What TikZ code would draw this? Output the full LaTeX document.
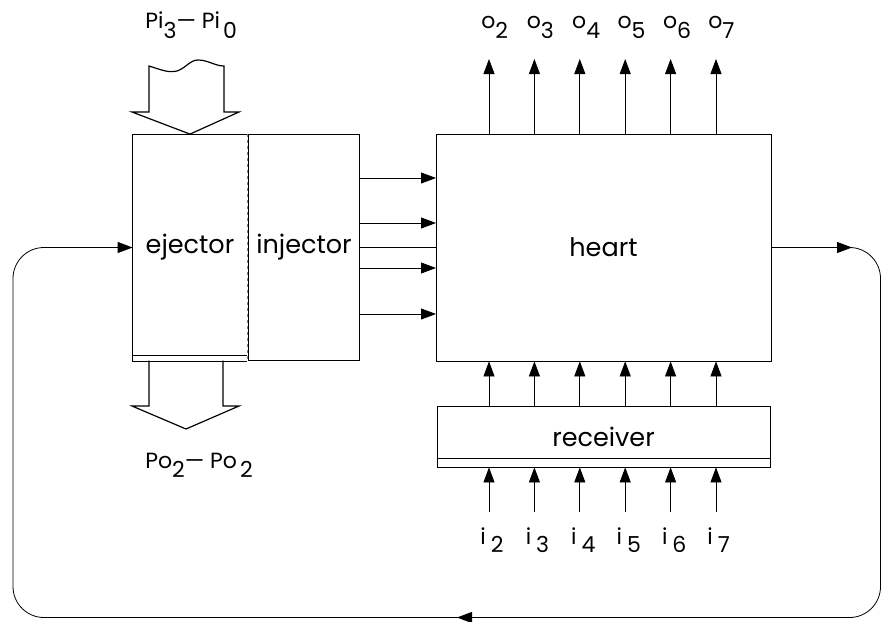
\documentclass[tikz,border=0pt]{standalone}
\usepackage{fontspec}
\setmainfont{Poppins}
\usetikzlibrary{arrows.meta}
\begin{document}
\begin{tikzpicture}[x=1pt,y=-1pt, line width=0.8pt,
  arr/.style={-{Triangle[length=15pt,width=11pt]}},
  blk/.style={draw, inner sep=0pt, font=\fontsize{25.5}{28}\selectfont},
  lbl/.style={inner sep=0pt, anchor=base west, font=\fontsize{22}{24}\selectfont},
  fat/.style={line width=1.2pt, line join=miter}]
\useasboundingbox (0,0) rectangle (882,621);
% blocks
\node[blk, draw=none, minimum width=114pt, minimum height=226pt] (ej) at (190,247.5) {ejector};
\draw (ej.north east) -- (ej.north west) -- (ej.south west) -- (ej.south east);
\draw[dashed, gray] (ej.north east) -- (ej.south east);
\draw ([yshift=6pt]ej.south west) -- ([yshift=6pt]ej.south east);
\node[blk, minimum width=111pt, minimum height=226pt] (inj) at (304,247.5) {injector};
\node[blk, minimum width=335pt, minimum height=227pt] (heart) at (603.5,247.5) {heart};
\node[blk, minimum width=333pt, minimum height=61pt] (rec) at (603.5,436.5) {receiver};
\draw ([yshift=9pt]rec.south west) -- ([yshift=9pt]rec.south east);
% injector -> heart
\foreach \y [count=\k] in {178,223,268,314} {
  \coordinate (a\k) at (436,\y);
  \draw[arr] (inj.east |- a\k) -- (a\k);
}
\draw (inj.east) -- (heart.west);
% outputs, receiver links, inputs
\foreach \k in {0,...,5} {
  \pgfmathsetmacro{\xx}{489+45.4*\k}
  \pgfmathtruncatemacro{\n}{\k+2}
  \coordinate (o\k) at (\xx,59);
  \coordinate (r\k) at (\xx,512);
  \draw[arr] (o\k |- heart.north) -- (o\k);
  \draw[arr] (o\k |- rec.north) -- (o\k |- heart.south);
  \draw[arr] (r\k) -- (r\k |- rec.south);
  \node[lbl] (lo\k) at (\xx-8,28) {o\raisebox{-10pt}{\n}};
  \node[lbl] (li\k) at (\xx-9,544) {i\hspace{5pt}\raisebox{-8pt}{\n}};
}
% feedback loop
\coordinate (c1) at (880.5,247.5);
\coordinate (c2) at (880.5,617.5);
\coordinate (c3) at (13,617.5);
\coordinate (c4) at (13,247.5);
\draw[rounded corners=31pt] (heart.east) -- (c1) -- (c2) -- (c3) -- (c4) -- (ej.west);
\coordinate (t1) at (852,247.5);
\coordinate (t1s) at (805,247.5);
\coordinate (t2) at (457,617.5);
\coordinate (t2s) at (510,617.5);
\coordinate (t3s) at (95,247.5);
\draw[arr, line width=1.1pt] (t1s) -- (t1);
\draw[arr, line width=1.1pt] (t2s) -- (t2);
\draw[arr, line width=1.1pt] (t3s) -- (ej.west);
% big input arrow
\draw[fat] (149,66) .. controls (162,70) and (168,73) .. (177,71)
  .. controls (186,68) and (190,60) .. (198,60)
  .. controls (208,60) and (215,66) .. (224,66)
  -- (224,112) -- (239,112) -- (ej.north) -- (132,112) -- (149,112) -- cycle;
% big output arrow
\draw[fat] (149,360.5) -- (149,406) -- (132,406) -- (186,429) -- (239,406) -- (223,406) -- (223,360.5);
% labels
\node[lbl] (pi) at (145,28) {Pi\raisebox{-10pt}{3}— Pi\hspace{3pt}\raisebox{-10pt}{0}};
\node[lbl] (po) at (145,468) {Po\raisebox{-9pt}{2}— Po\hspace{3pt}\raisebox{-9pt}{2}};
\end{tikzpicture}
\end{document}
